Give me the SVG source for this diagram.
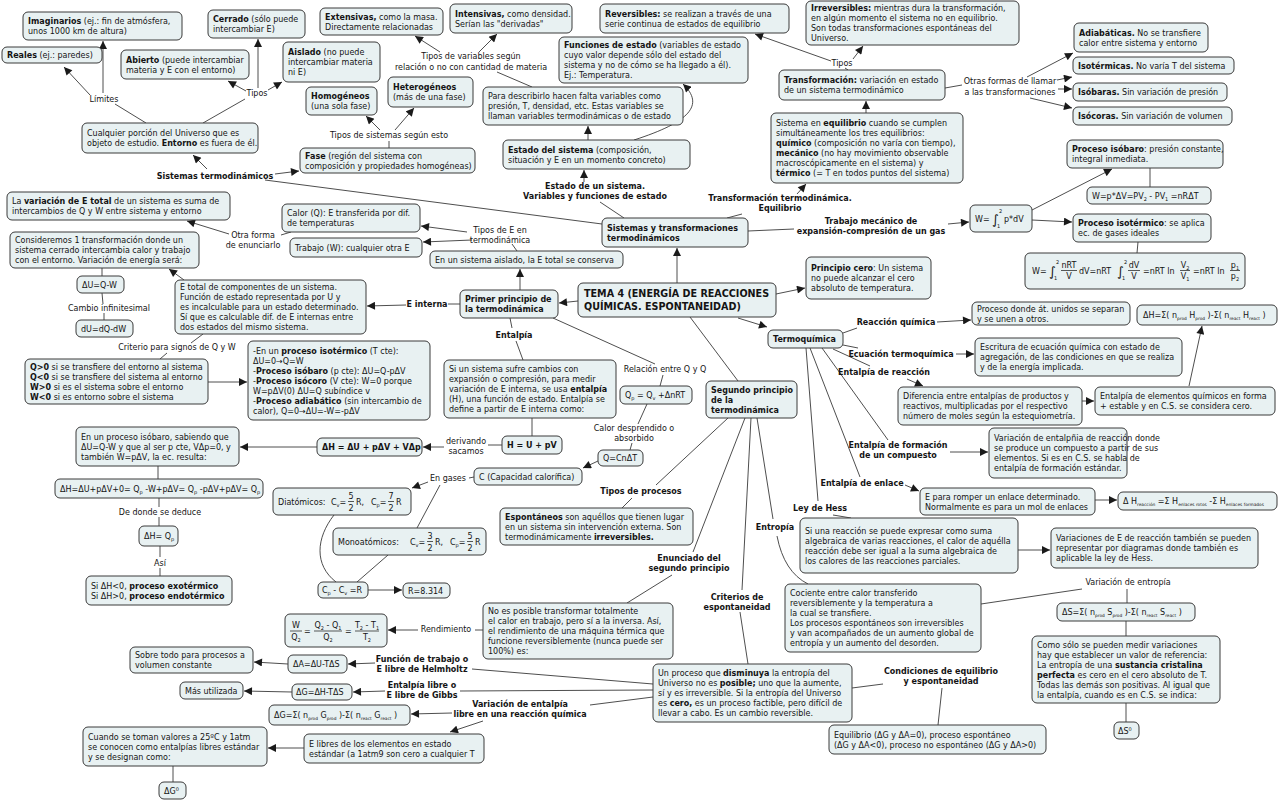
<svg xmlns="http://www.w3.org/2000/svg" width="1280" height="801" viewBox="0 0 1280 801">
<defs>
<marker id="ah" viewBox="0 0 10 10" refX="10" refY="5" markerWidth="9" markerHeight="8" markerUnits="userSpaceOnUse" orient="auto"><path d="M0,0L10,5L0,10z" fill="#1a1a1a"/></marker>
<style>
.t{font-family:"DejaVu Sans",Verdana,sans-serif;font-size:8px;fill:#141414}
.m{text-anchor:middle}
.b{font-weight:bold}
.s{font-size:5px}
.xs{font-size:4.3px}
.root{font-size:9.6px;font-weight:bold}
.box{fill:#e8f1f2;stroke:#3a3a3a;stroke-width:1}
.lk{fill:none;stroke:#3a3a3a;stroke-width:0.9}
.a{marker-end:url(#ah)}
.bar{stroke:#141414;stroke-width:0.7}
</style>
</defs>
<rect width="1280" height="801" fill="#ffffff"/>
<g id="connectors">
<path class="lk a" d="M677 283L677 248"/>
<path class="lk a" d="M578 301L559 303"/>
<path class="lk a" d="M776 294L805 288"/>
<path class="lk a" d="M738 318L767 327"/>
<path class="lk" d="M690 317L738 381"/>
<path class="lk" d="M624 218L600 202"/>
<path class="lk a" d="M584 182L584 170"/>
<path class="lk a" d="M588 140L588 126"/>
<path class="lk a" d="M634 140C690 122 705 105 683 84"/>
<path class="lk" d="M532 87L497 72"/>
<path class="lk a" d="M440 52L415 36"/>
<path class="lk a" d="M479 52L497 34"/>
<path class="lk" d="M602 224L265 180"/>
<path class="lk a" d="M207 169L193 155"/>
<path class="lk a" d="M275 174L299 171"/>
<path class="lk" d="M146 123L115 104"/>
<path class="lk a" d="M90 95L64 67"/>
<path class="lk a" d="M103 93L103 41"/>
<path class="lk" d="M203 123L245 99"/>
<path class="lk a" d="M246 91L228 81"/>
<path class="lk a" d="M258 88L258 39"/>
<path class="lk a" d="M268 90L282 82"/>
<path class="lk" d="M389 148L389 141"/>
<path class="lk a" d="M380 130L366 116"/>
<path class="lk a" d="M395 130L414 108"/>
<path class="lk" d="M727 218L742 214"/>
<path class="lk a" d="M797 194L806 184"/>
<path class="lk a" d="M866 113L866 101"/>
<path class="lk" d="M848 70L845 68"/>
<path class="lk a" d="M831 61L755 34"/>
<path class="lk a" d="M853 59L863 46"/>
<path class="lk" d="M945 88L962 85"/>
<path class="lk a" d="M1027 77L1073 53"/>
<path class="lk a" d="M1057 80L1072 77"/>
<path class="lk a" d="M1058 89L1072 89"/>
<path class="lk a" d="M1030 98L1072 108"/>
<path class="lk" d="M748 231L794 229"/>
<path class="lk a" d="M948 224L969 222"/>
<path class="lk a" d="M1032 210L1112 169"/>
<path class="lk" d="M1150 168L1150 187"/>
<path class="lk a" d="M1032 220L1072 222"/>
<path class="lk" d="M1138 242L1137 253"/>
<path class="lk a" d="M520 290L520 269"/>
<path class="lk" d="M517 251L512 244"/>
<path class="lk a" d="M467 232L421 226"/>
<path class="lk a" d="M472 240L423 242"/>
<path class="lk" d="M281 235L291 232"/>
<path class="lk a" d="M229 234L187 221"/>
<path class="lk" d="M460 304L448 304"/>
<path class="lk a" d="M406 305L367 306"/>
<path class="lk a" d="M184 280L169 269"/>
<path class="lk" d="M102 268L102 276"/>
<path class="lk" d="M102 293L103 304"/>
<path class="lk" d="M104 313L104 320"/>
<path class="lk" d="M203 334L191 343"/>
<path class="lk" d="M167 353L160 359"/>
<path class="lk a" d="M208 382L247 382"/>
<path class="lk" d="M510 318L512 328"/>
<path class="lk" d="M516 341L523 360"/>
<path class="lk" d="M532 418L532 436"/>
<path class="lk" d="M502 445L488 445"/>
<path class="lk a" d="M444 447L423 447"/>
<path class="lk a" d="M317 447L240 447"/>
<path class="lk" d="M158 466L158 479"/>
<path class="lk" d="M159 498L159 507"/>
<path class="lk" d="M159 517L159 526"/>
<path class="lk" d="M160 546L160 557"/>
<path class="lk" d="M160 568L160 576"/>
<path class="lk" d="M553 318L655 364"/>
<path class="lk" d="M663 375L660 386"/>
<path class="lk" d="M647 404L638 424"/>
<path class="lk" d="M632 443L630 450"/>
<path class="lk a" d="M598 461L583 468"/>
<path class="lk" d="M474 477L469 478"/>
<path class="lk a" d="M428 482L412 488"/>
<path class="lk" d="M440 485L417 528"/>
<path class="lk" d="M334 515C316 538 314 565 336 582"/>
<path class="lk" d="M388 555L357 582"/>
<path class="lk a" d="M368 590L402 590"/>
<path class="lk" d="M728 418L656 485"/>
<path class="lk" d="M632 498L622 508"/>
<path class="lk" d="M745 418L693 552"/>
<path class="lk" d="M672 575L627 603"/>
<path class="lk" d="M483 630L475 630"/>
<path class="lk a" d="M418 630L388 630"/>
<path class="lk" d="M751 418L742 590"/>
<path class="lk" d="M740 612L748 664"/>
<path class="lk" d="M757 418L773 519"/>
<path class="lk" d="M777 536Q784 572 808 584"/>
<path class="lk" d="M981 604L1082 589"/>
<path class="lk" d="M1127 589L1127 603"/>
<path class="lk" d="M1126 621L1126 636"/>
<path class="lk" d="M1126 703L1126 722"/>
<path class="lk" d="M653 684L472 669"/>
<path class="lk" d="M653 690L460 691"/>
<path class="lk" d="M653 697L590 705"/>
<path class="lk a" d="M375 663L348 664"/>
<path class="lk a" d="M288 664L254 662"/>
<path class="lk a" d="M385 691L353 692"/>
<path class="lk a" d="M292 692L244 691"/>
<path class="lk a" d="M452 713L411 714"/>
<path class="lk a" d="M483 721L450 732"/>
<path class="lk a" d="M304 748L268 748"/>
<path class="lk" d="M173 766L173 782"/>
<path class="lk" d="M852 688L883 684"/>
<path class="lk" d="M942 688L938 725"/>
<path class="lk" d="M843 333L857 328"/>
<path class="lk a" d="M937 322L971 320"/>
<path class="lk" d="M843 345L858 348"/>
<path class="lk a" d="M956 354L974 354"/>
<path class="lk" d="M833 349L870 366"/>
<path class="lk a" d="M907 379L923 386"/>
<path class="lk a" d="M1082 401L1094 401"/>
<path class="lk a" d="M1189 386L1202 326"/>
<path class="lk" d="M822 348L888 440"/>
<path class="lk a" d="M950 452L988 452"/>
<path class="lk" d="M810 348L860 477"/>
<path class="lk a" d="M905 485L919 491"/>
<path class="lk a" d="M1095 500L1117 500"/>
<path class="lk" d="M806 348L818 501"/>
<path class="lk" d="M833 515L851 518"/>
<path class="lk a" d="M1018 550L1050 550"/>
</g>

<!-- top left -->
<g id="imaginarios"><rect class="box" x="23" y="12" width="159" height="28" rx="5"/><text class="t" x="28" y="24"><tspan class="b">Imaginarios</tspan> (ej.: fin de atmósfera,<tspan x="28" dy="10">unos 1000 km de altura)</tspan></text></g>
<g id="reales"><rect class="box" x="2" y="47" width="100" height="16" rx="5"/><text class="t" x="7" y="58"><tspan class="b">Reales</tspan> (ej.: paredes)</text></g>
<g id="cerrado"><rect class="box" x="208" y="10" width="97" height="28" rx="5"/><text class="t" x="213" y="22"><tspan class="b">Cerrado</tspan> (sólo puede<tspan x="213" dy="10">intercambiar E)</tspan></text></g>
<g id="abierto"><rect class="box" x="121" y="50" width="128" height="29" rx="5"/><text class="t" x="126" y="62.5"><tspan class="b">Abierto</tspan> (puede intercambiar<tspan x="126" dy="10">materia y E con el entorno)</tspan></text></g>
<g id="aislado"><rect class="box" x="283" y="42" width="97" height="40" rx="5"/><text class="t" x="288" y="55"><tspan class="b">Aislado</tspan> (no puede<tspan x="288" dy="10">intercambiar materia</tspan><tspan x="288" dy="10">ni E)</tspan></text></g>
<g id="homogeneos"><rect class="box" x="306" y="87" width="71" height="28" rx="5"/><text class="t" x="311" y="99"><tspan class="b">Homogéneos</tspan><tspan x="311" dy="10">(una sola fase)</tspan></text></g>
<g id="heterogeneos"><rect class="box" x="388" y="77" width="85" height="30" rx="5"/><text class="t" x="393" y="90"><tspan class="b">Heterogéneos</tspan><tspan x="393" dy="10">(más de una fase)</tspan></text></g>
<g id="extensivas"><rect class="box" x="320" y="8" width="123" height="27" rx="5"/><text class="t" x="325" y="19.5"><tspan class="b">Extensivas,</tspan> como la masa.<tspan x="325" dy="10">Directamente relacionadas</tspan></text></g>
<g id="intensivas"><rect class="box" x="450" y="4" width="122" height="29" rx="5"/><text class="t" x="455" y="16.5"><tspan class="b">Intensivas,</tspan> como densidad.<tspan x="455" dy="10">Serían las "derivadas"</tspan></text></g>
<g id="reversibles"><rect class="box" x="600" y="4" width="189" height="29" rx="5"/><text class="t" x="605" y="16.5"><tspan class="b">Reversibles:</tspan> se realizan a través de una<tspan x="605" dy="10">serie continua de estados de equilibrio</tspan></text></g>
<g id="irreversibles"><rect class="box" x="806" y="1" width="213" height="44" rx="5"/><text class="t" x="811" y="11"><tspan class="b">Irreversibles:</tspan> mientras dura la transformación,<tspan x="811" dy="10">en algún momento el sistema no en equilibrio.</tspan><tspan x="811" dy="10">Son todas transformaciones espontáneas del</tspan><tspan x="811" dy="10">Universo.</tspan></text></g>
<g id="funciones"><rect class="box" x="559" y="37" width="189" height="46" rx="5"/><text class="t" x="564" y="48"><tspan class="b">Funciones de estado</tspan> (variables de estado<tspan x="564" dy="10">cuyo valor depende sólo del estado del</tspan><tspan x="564" dy="10">sistema y no de cómo se ha llegado a él).</tspan><tspan x="564" dy="10">Ej.: Temperatura.</tspan></text></g>
<g id="describirlo"><rect class="box" x="483" y="87" width="200" height="38" rx="5"/><text class="t" x="488" y="99">Para describirlo hacen falta variables como<tspan x="488" dy="10">presión, T, densidad, etc. Estas variables se</tspan><tspan x="488" dy="10">llaman variables termodinámicas o de estado</tspan></text></g>
<g id="estado"><rect class="box" x="503" y="140" width="187" height="29" rx="5"/><text class="t" x="508" y="152.5"><tspan class="b">Estado del sistema</tspan> (composición,<tspan x="508" dy="10">situación y E en un momento concreto)</tspan></text></g>
<g id="transformacion"><rect class="box" x="779" y="70" width="166" height="30" rx="5"/><text class="t" x="784" y="83"><tspan class="b">Transformación:</tspan> variación en estado<tspan x="784" dy="10">de un sistema termodinámico</tspan></text></g>
<g id="adiabaticas"><rect class="box" x="1074" y="23" width="134" height="29" rx="5"/><text class="t" x="1079" y="35.5"><tspan class="b">Adiabáticas.</tspan> No se transfiere<tspan x="1079" dy="10">calor entre sistema y entorno</tspan></text></g>
<g id="isotermicas"><rect class="box" x="1073" y="57" width="161" height="17" rx="5"/><text class="t" x="1078" y="68.5"><tspan class="b">Isotérmicas.</tspan> No varía T del sistema</text></g>
<g id="isobaras"><rect class="box" x="1073" y="83" width="154" height="18" rx="5"/><text class="t" x="1078" y="95"><tspan class="b">Isóbaras.</tspan> Sin variación de presión</text></g>
<g id="isocoras"><rect class="box" x="1073" y="107" width="159" height="18" rx="5"/><text class="t" x="1078" y="119"><tspan class="b">Isócoras.</tspan> Sin variación de volumen</text></g>
<g id="equilibrio"><rect class="box" x="771" y="113" width="192" height="70" rx="5"/><text class="t" x="776" y="126">Sistema en <tspan class="b">equilibrio</tspan> cuando se cumplen<tspan x="776" dy="10">simultáneamente los tres equilibrios:</tspan><tspan x="776" dy="10" class="b">químico</tspan> (composición no varía con tiempo),<tspan x="776" dy="10" class="b">mecánico</tspan> (no hay movimiento observable<tspan x="776" dy="10">macroscópicamente en el sistema) y</tspan><tspan x="776" dy="10" class="b">térmico</tspan> (= T en todos puntos del sistema)</text></g>
<g id="fase"><rect class="box" x="300" y="148" width="175" height="25" rx="5"/><text class="t" x="305" y="158.5"><tspan class="b">Fase</tspan> (región del sistema con<tspan x="305" dy="10">composición y propiedades homogéneas)</tspan></text></g>
<g id="cualquier"><rect class="box" x="82" y="123" width="176" height="30" rx="5"/><text class="t" x="87" y="136">Cualquier porción del Universo que es<tspan x="87" dy="10">objeto de estudio. </tspan><tspan class="b">Entorno</tspan> es fuera de él.</text></g>
<g id="sistemas-transf"><rect class="box" x="602" y="218" width="146" height="29" rx="5"/><text class="t b" x="607" y="230.5">Sistemas y transformaciones<tspan x="607" dy="10">termodinámicos</tspan></text></g>
<g id="calor"><rect class="box" x="282" y="204" width="138" height="28" rx="5"/><text class="t" x="287" y="216">Calor (Q): E transferida por dif.<tspan x="287" dy="10">de temperaturas</tspan></text></g>
<g id="trabajo"><rect class="box" x="290" y="238" width="132" height="19" rx="5"/><text class="t" x="295" y="250.5">Trabajo (W): cualquier otra E</text></g>
<g id="variacion-total"><rect class="box" x="7" y="192" width="223" height="28" rx="5"/><text class="t" x="12" y="204">La <tspan class="b">variación de E total</tspan> de un sistema es suma de<tspan x="12" dy="10">intercambios de Q y W entre sistema y entorno</tspan></text></g>
<g id="consideremos"><rect class="box" x="10" y="232" width="189" height="36" rx="5"/><text class="t" x="15" y="243">Consideremos 1 transformación donde un<tspan x="15" dy="10">sistema cerrado intercambia calor y trabajo</tspan><tspan x="15" dy="10">con el entorno. Variación de energía será:</tspan></text></g>
<g id="aislado-conserva"><rect class="box" x="430" y="251" width="193" height="17" rx="5"/><text class="t" x="435" y="262.5">En un sistema aislado, la E total se conserva</text></g>
<g id="du"><rect class="box" x="77" y="276" width="47" height="17" rx="5"/><text class="t" x="82" y="287.5">ΔU=Q-W</text></g>
<g id="du-inf"><rect class="box" x="76" y="320" width="57" height="17" rx="5"/><text class="t" x="81" y="331.5">dU=dQ-dW</text></g>
<g id="e-total"><rect class="box" x="175" y="280" width="191" height="54" rx="5"/><text class="t" x="180" y="290">E total de componentes de un sistema.<tspan x="180" dy="10">Función de estado representada por U y</tspan><tspan x="180" dy="10">es incalculable para un estado determinado.</tspan><tspan x="180" dy="10">Sí que es calculable dif. de E internas entre</tspan><tspan x="180" dy="10">dos estados del mismo sistema.</tspan></text></g>
<g id="signos"><rect class="box" x="25" y="359" width="183" height="45" rx="5"/><text class="t" x="30" y="369.5"><tspan class="b">Q&gt;0</tspan> si se transfiere del entorno al sistema<tspan x="30" dy="10" class="b">Q&lt;0</tspan> si se transfiere del sistema al entorno<tspan x="30" dy="10" class="b">W&gt;0</tspan> si es el sistema sobre el entorno<tspan x="30" dy="10" class="b">W&lt;0</tspan> si es entorno sobre el sistema</text></g>
<g id="procesos-primer"><rect class="box" x="248" y="341" width="182" height="79" rx="5"/><text class="t" x="253" y="353.5">-En un <tspan class="b">proceso isotérmico</tspan> (T cte):<tspan x="253" dy="10">ΔU=0→Q=W</tspan><tspan x="253" dy="10">-</tspan><tspan class="b">Proceso isóbaro</tspan> (p cte): ΔU=Q-pΔV<tspan x="253" dy="10">-</tspan><tspan class="b">Proceso isócoro</tspan> (V cte): W=0 porque<tspan x="253" dy="10">W=pΔV(0)   ΔU=Q subíndice v</tspan><tspan x="253" dy="10">-</tspan><tspan class="b">Proceso adiabático</tspan> (sin intercambio de<tspan x="253" dy="10">calor), Q=0→ΔU=-W=-pΔV</tspan></text></g>
<g id="primer"><rect class="box" x="460" y="290" width="98" height="28" rx="5"/><text class="t b" x="465" y="302">Primer principio de<tspan x="465" dy="10">la termodinámica</tspan></text></g>
<g id="root"><rect class="box" x="578" y="283" width="198" height="34" rx="5"/><text class="t root" x="584" y="296.5">TEMA 4 (ENERGÍA DE REACCIONES<tspan x="584" dy="13">QUÍMICAS. ESPONTANEIDAD)</tspan></text></g>
<g id="si-sistema"><rect class="box" x="444" y="360" width="172" height="58" rx="5"/><text class="t" x="449" y="372">Si un sistema sufre cambios con<tspan x="449" dy="10">expansión o compresión, para medir</tspan><tspan x="449" dy="10">variación de E interna, se usa </tspan><tspan class="b">entalpía</tspan><tspan x="449" dy="10">(H), una función de estado. Entalpía se</tspan><tspan x="449" dy="10">define a partir de E interna como:</tspan></text></g>
<g id="qp"><rect class="box" x="620" y="386" width="72" height="18" rx="5"/><text class="t" x="625" y="398">Q<tspan class="s" dy="2">p</tspan><tspan dy="-2"> = Q</tspan><tspan class="s" dy="2">v</tspan><tspan dy="-2"> +ΔnRT</tspan></text></g>
<g id="qcn"><rect class="box" x="598" y="450" width="45" height="16" rx="5"/><text class="t" x="603" y="461">Q=CnΔT</text></g>
<g id="h-def"><rect class="box" x="502" y="436" width="60" height="18" rx="5"/><text class="t b" x="507" y="448">H = U + pV</text></g>
<g id="dh-def"><rect class="box" x="317" y="438" width="105" height="18" rx="5"/><text class="t b" x="322" y="450">ΔH = ΔU + pΔV + VΔp</text></g>
<g id="isobaro-dh"><rect class="box" x="76" y="427" width="163" height="39" rx="5"/><text class="t" x="81" y="439.5">En un proceso isóbaro, sabiendo que<tspan x="81" dy="10">ΔU=Q-W y que al ser p cte, VΔp=0, y</tspan><tspan x="81" dy="10">también W=pΔV, la ec. resulta:</tspan></text></g>
<g id="dh-long"><rect class="box" x="55" y="479" width="208" height="19" rx="5"/><text class="t" x="60" y="491.5">ΔH=ΔU+pΔV+0= Q<tspan class="s" dy="2">p</tspan><tspan dy="-2"> -W+pΔV= Q</tspan><tspan class="s" dy="2">p</tspan><tspan dy="-2"> -pΔV+pΔV= Q</tspan><tspan class="s" dy="2">p</tspan></text></g>
<g id="dh-qp"><rect class="box" x="139" y="526" width="39" height="20" rx="5"/><text class="t" x="144" y="539">ΔH= Q<tspan class="s" dy="2">p</tspan></text></g>
<g id="exo-endo"><rect class="box" x="86" y="576" width="146" height="29" rx="5"/><text class="t" x="91" y="588.5">Si ΔH&lt;0, <tspan class="b">proceso exotérmico</tspan><tspan x="91" dy="10">Si ΔH&gt;0, </tspan><tspan class="b">proceso endotérmico</tspan></text></g>
<g id="capacidad"><rect class="box" x="474" y="468" width="108" height="17" rx="5"/><text class="t" x="479" y="479.5">C (Capacidad calorífica)</text></g>
<g id="diatomicos"><rect class="box" x="273" y="488" width="138" height="27" rx="5"/>
<text class="t" x="278" y="504.5">Diatómicos:</text>
<text class="t" x="331" y="504.5">C<tspan class="s" dy="2">v</tspan><tspan dy="-2">=</tspan></text>
<text class="t m" x="351" y="499">5</text><line class="bar" x1="348" y1="501.5" x2="354" y2="501.5"/><text class="t m" x="351" y="511">2</text>
<text class="t" x="356" y="504.5">R,</text>
<text class="t" x="371" y="504.5">C<tspan class="s" dy="2">p</tspan><tspan dy="-2">=</tspan></text>
<text class="t m" x="391" y="499">7</text><line class="bar" x1="388" y1="501.5" x2="394" y2="501.5"/><text class="t m" x="391" y="511">2</text>
<text class="t" x="396" y="504.5">R</text></g>
<g id="monoatomicos"><rect class="box" x="333" y="528" width="153" height="27" rx="5"/>
<text class="t" x="338" y="544.5">Monoatómicos:</text>
<text class="t" x="410" y="544.5">C<tspan class="s" dy="2">v</tspan><tspan dy="-2">=</tspan></text>
<text class="t m" x="430" y="539">3</text><line class="bar" x1="427" y1="541.5" x2="433" y2="541.5"/><text class="t m" x="430" y="551">2</text>
<text class="t" x="435" y="544.5">R,</text>
<text class="t" x="450" y="544.5">C<tspan class="s" dy="2">p</tspan><tspan dy="-2">=</tspan></text>
<text class="t m" x="470" y="539">5</text><line class="bar" x1="467" y1="541.5" x2="473" y2="541.5"/><text class="t m" x="470" y="551">2</text>
<text class="t" x="475" y="544.5">R</text></g>
<g id="cp-cv"><rect class="box" x="318" y="582" width="50" height="16" rx="5"/><text class="t" x="322" y="593">C<tspan class="s" dy="2">p</tspan><tspan dy="-2"> - C</tspan><tspan class="s" dy="2">v</tspan><tspan dy="-2"> =R</tspan></text></g>
<g id="r-valor"><rect class="box" x="403" y="583" width="47" height="15" rx="5"/><text class="t" x="408" y="593.5">R=8.314</text></g>
<g id="espontaneos"><rect class="box" x="500" y="508" width="193" height="37" rx="5"/><text class="t" x="505" y="519.5"><tspan class="b">Espontáneos</tspan> son aquéllos que tienen lugar<tspan x="505" dy="10">en un sistema sin intervención externa. Son</tspan><tspan x="505" dy="10">termodinámicamente </tspan><tspan class="b">irreversibles.</tspan></text></g>
<g id="segundo"><rect class="box" x="706" y="381" width="91" height="37" rx="5"/><text class="t b" x="711" y="392.5">Segundo principio<tspan x="711" dy="10">de la</tspan><tspan x="711" dy="10">termodinámica</tspan></text></g>
<g id="cero"><rect class="box" x="806" y="257" width="125" height="42" rx="5"/><text class="t" x="811" y="271"><tspan class="b">Principio cero</tspan>: Un sistema<tspan x="811" dy="10">no puede alcanzar el cero</tspan><tspan x="811" dy="10">absoluto de temperatura.</tspan></text></g>
<g id="termoquimica"><rect class="box" x="768" y="330" width="75" height="18" rx="5"/><text class="t b" x="773" y="342">Termoquímica</text></g>
<g id="diferencia"><rect class="box" x="898" y="387" width="184" height="38" rx="5"/><text class="t" x="903" y="399">Diferencia entre entalpías de productos y<tspan x="903" dy="10">reactivos, multiplicadas por el respectivo</tspan><tspan x="903" dy="10">número de moles según la estequiometría.</tspan></text></g>
<g id="proceso-donde"><rect class="box" x="972" y="302" width="158" height="23" rx="5"/><text class="t" x="977" y="311.5">Proceso donde át. unidos se separan<tspan x="977" dy="10">y se unen a otros.</tspan></text></g>
<g id="escritura"><rect class="box" x="975" y="338" width="207" height="38" rx="5"/><text class="t" x="980" y="350">Escritura de ecuación química con estado de<tspan x="980" dy="10">agregación, de las condiciones en que se realiza</tspan><tspan x="980" dy="10">y de la energía implicada.</tspan></text></g>
<g id="dh-sigma"><rect class="box" x="1137" y="305" width="140" height="20" rx="5"/><text class="t" x="1143" y="318">ΔH=Σ( n<tspan class="xs" dy="2">prod</tspan><tspan dy="-2"> H</tspan><tspan class="xs" dy="2">prod</tspan><tspan dy="-2"> )-Σ( n</tspan><tspan class="xs" dy="2">react</tspan><tspan dy="-2"> H</tspan><tspan class="xs" dy="2">react</tspan><tspan dy="-2"> )</tspan></text></g>
<g id="elementos"><rect class="box" x="1095" y="387" width="180" height="28" rx="5"/><text class="t" x="1100" y="399">Entalpía de elementos químicos en forma<tspan x="1100" dy="10">+ estable y en C.S. se considera cero.</tspan></text></g>
<g id="formacion"><rect class="box" x="989" y="428" width="138" height="50" rx="5"/><text class="t" x="994" y="441">Variación de entalpñia de reacción donde<tspan x="994" dy="10">se produce un compuesto a partir de sus</tspan><tspan x="994" dy="10">elementos. Si es en C.S. se habla de</tspan><tspan x="994" dy="10">entalpía de formación estándar.</tspan></text></g>
<g id="romper"><rect class="box" x="920" y="488" width="175" height="27" rx="5"/><text class="t" x="925" y="499.5">E para romper un enlace determinado.<tspan x="925" dy="10">Normalmente es para un mol de enlaces</tspan></text></g>
<g id="dh-enlaces"><rect class="box" x="1118" y="492" width="159" height="18" rx="5"/><text class="t" x="1123" y="504">Δ H<tspan class="xs" dy="2">reacción</tspan><tspan dy="-2"> =Σ H</tspan><tspan class="xs" dy="2">enlaces rotos</tspan><tspan dy="-2"> -Σ H</tspan><tspan class="xs" dy="2">enlaces formados</tspan></text></g>
<g id="hess"><rect class="box" x="800" y="518" width="218" height="55" rx="5"/><text class="t" x="805" y="533.5">Si una reacción se puede expresar como suma<tspan x="805" dy="10">algebraica de varias reacciones, el calor de aquélla</tspan><tspan x="805" dy="10">reacción debe ser igual a la suma algebraica de</tspan><tspan x="805" dy="10">los calores de las reacciones parciales.</tspan></text></g>
<g id="diagramas"><rect class="box" x="1051" y="528" width="207" height="40" rx="5"/><text class="t" x="1056" y="541">Variaciones de E de reacción también se pueden<tspan x="1056" dy="10">representar por diagramas donde también es</tspan><tspan x="1056" dy="10">aplicable la ley de Hess.</tspan></text></g>
<g id="ds-sigma"><rect class="box" x="1057" y="603" width="138" height="18" rx="5"/><text class="t" x="1062" y="615">ΔS=Σ( n<tspan class="xs" dy="2">prod</tspan><tspan dy="-2"> S</tspan><tspan class="xs" dy="2">prod</tspan><tspan dy="-2"> )-Σ( n</tspan><tspan class="xs" dy="2">react</tspan><tspan dy="-2"> S</tspan><tspan class="xs" dy="2">react</tspan><tspan dy="-2"> )</tspan></text></g>
<g id="como-solo"><rect class="box" x="1032" y="636" width="188" height="67" rx="5"/><text class="t" x="1037" y="647.5">Como sólo se pueden medir variaciones<tspan x="1037" dy="10">hay que establecer un valor de referencia:</tspan><tspan x="1037" dy="10">La entropía de una </tspan><tspan class="b">sustancia cristalina</tspan><tspan x="1037" dy="10" class="b">perfecta</tspan> es cero en el cero absoluto de T.<tspan x="1037" dy="10">Todas las demás son positivas. Al igual que</tspan><tspan x="1037" dy="10">la entalpía, cuando es en C.S. se indica:</tspan></text></g>
<g id="ds0"><rect class="box" x="1114" y="722" width="25" height="17" rx="5"/><text class="t" x="1118" y="733.5">ΔS<tspan class="s" dy="-3">0</tspan></text></g>
<g id="cociente"><rect class="box" x="785" y="584" width="196" height="68" rx="5"/><text class="t" x="790" y="596">Cociente entre calor transferido<tspan x="790" dy="10">reversiblemente y la temperatura a</tspan><tspan x="790" dy="10">la cual se transfiere.</tspan><tspan x="790" dy="10">Los procesos espontáneos son irreversibles</tspan><tspan x="790" dy="10">y van acompañados de un aumento global de</tspan><tspan x="790" dy="10">entropía y un aumento del desorden.</tspan></text></g>
<g id="no-posible"><rect class="box" x="483" y="603" width="190" height="56" rx="5"/><text class="t" x="488" y="614">No es posible transformar totalmente<tspan x="488" dy="10">el calor en trabajo, pero sí a la inversa. Así,</tspan><tspan x="488" dy="10">el rendimiento de una máquina térmica que</tspan><tspan x="488" dy="10">funcione reversiblemente (nunca puede ser</tspan><tspan x="488" dy="10">100%) es:</tspan></text></g>
<g id="rendimiento-f"><rect class="box" x="285" y="614" width="102" height="33" rx="5"/>
<text class="t m" x="296" y="628">W</text><line class="bar" x1="290" y1="631" x2="302" y2="631"/><text class="t m" x="296" y="640">Q<tspan class="s" dy="2">2</tspan></text>
<text class="t" x="304" y="633.5">=</text>
<text class="t m" x="328" y="628">Q<tspan class="s" dy="2">2</tspan><tspan dy="-2"> - Q</tspan><tspan class="s" dy="2">1</tspan></text><line class="bar" x1="314" y1="631" x2="342" y2="631"/><text class="t m" x="328" y="640">Q<tspan class="s" dy="2">2</tspan></text>
<text class="t" x="345" y="633.5">=</text>
<text class="t m" x="367" y="628">T<tspan class="s" dy="2">2</tspan><tspan dy="-2"> - T</tspan><tspan class="s" dy="2">1</tspan></text><line class="bar" x1="355" y1="631" x2="379" y2="631"/><text class="t m" x="367" y="640">T<tspan class="s" dy="2">2</tspan></text></g>
<g id="da"><rect class="box" x="288" y="655" width="59" height="18" rx="5"/><text class="t" x="293" y="667">ΔA=ΔU-TΔS</text></g>
<g id="sobre-todo"><rect class="box" x="130" y="647" width="123" height="26" rx="5"/><text class="t" x="135" y="658">Sobre todo para procesos a<tspan x="135" dy="10">volumen constante</tspan></text></g>
<g id="dg"><rect class="box" x="292" y="684" width="60" height="16" rx="5"/><text class="t" x="296" y="695">ΔG=ΔH-TΔS</text></g>
<g id="mas-utilizada"><rect class="box" x="180" y="682" width="63" height="17" rx="5"/><text class="t" x="185" y="693.5">Más utilizada</text></g>
<g id="dg-sigma"><rect class="box" x="269" y="705" width="141" height="20" rx="5"/><text class="t" x="274" y="718">ΔG=Σ( n<tspan class="xs" dy="2">prod</tspan><tspan dy="-2"> G</tspan><tspan class="xs" dy="2">prod</tspan><tspan dy="-2"> )-Σ( n</tspan><tspan class="xs" dy="2">react</tspan><tspan dy="-2"> G</tspan><tspan class="xs" dy="2">react</tspan><tspan dy="-2"> )</tspan></text></g>
<g id="e-libres"><rect class="box" x="304" y="734" width="180" height="29" rx="5"/><text class="t" x="309" y="746.5">E libres de los elementos en estado<tspan x="309" dy="10">estándar (a 1atm9 son cero a cualquier T</tspan></text></g>
<g id="cuando"><rect class="box" x="83" y="727" width="184" height="39" rx="5"/><text class="t" x="88" y="739.5">Cuando se toman valores a 25ºC y 1atm<tspan x="88" dy="10">se conocen como entalpías libres estándar</tspan><tspan x="88" dy="10">y se designan como:</tspan></text></g>
<g id="dg0"><rect class="box" x="159" y="782" width="27" height="17" rx="5"/><text class="t" x="164" y="793.5">ΔG<tspan class="s" dy="-3">0</tspan></text></g>
<g id="disminuya"><rect class="box" x="653" y="664" width="199" height="58" rx="5"/><text class="t" x="658" y="676">Un proceso que <tspan class="b">disminuya</tspan> la entropía del<tspan x="658" dy="10">Universo no es </tspan><tspan class="b">posible;</tspan> uno que la aumente,<tspan x="658" dy="10">sí y es irreversible. Si la entropía del Universo</tspan><tspan x="658" dy="10">es </tspan><tspan class="b">cero,</tspan> es un proceso factible, pero difícil de<tspan x="658" dy="10">llevar a cabo. Es un cambio reversible.</tspan></text></g>
<g id="condiciones-box"><rect class="box" x="829" y="725" width="217" height="29" rx="5"/><text class="t" x="834" y="737.5">Equilibrio (ΔG y ΔA=0), proceso espontáneo<tspan x="834" dy="10">(ΔG y ΔA&lt;0), proceso no espontáneo (ΔG y ΔA&gt;0)</tspan></text></g>
<g id="isobaro-w"><rect class="box" x="1067" y="140" width="156" height="28" rx="5"/><text class="t" x="1072" y="152"><tspan class="b">Proceso isóbaro</tspan>: presión constante,<tspan x="1072" dy="10">integral inmediata.</tspan></text></g>
<g id="w-isobaro"><rect class="box" x="1087" y="187" width="124" height="17" rx="5"/><text class="t" x="1092" y="198.5">W=p*ΔV=PV<tspan class="s" dy="2">2</tspan><tspan dy="-2"> - PV</tspan><tspan class="s" dy="2">1</tspan><tspan dy="-2"> =nRΔT</tspan></text></g>
<g id="w-integral"><rect class="box" x="970" y="205" width="62" height="27" rx="5"/>
<text class="t" x="975" y="222">W=</text><text class="t" x="992" y="224" style="font-size:13px">∫</text><text class="t s" x="999" y="213">2</text><text class="t s" x="997" y="228">1</text><text class="t" x="1004" y="222">p*dV</text></g>
<g id="isotermico-w"><rect class="box" x="1073" y="214" width="138" height="28" rx="5"/><text class="t" x="1078" y="226"><tspan class="b">Proceso isotérmico</tspan>: se aplica<tspan x="1078" dy="10">ec. de gases ideales</tspan></text></g>
<g id="w-isotermico"><rect class="box" x="1025" y="253" width="220" height="36" rx="5"/>
<text class="t" x="1032" y="273.5">W=</text><text class="t" x="1049" y="276" style="font-size:13px">∫</text><text class="t s" x="1056" y="264">2</text><text class="t s" x="1054" y="280">1</text>
<text class="t m" x="1069" y="268">nRT</text><line class="bar" x1="1061" y1="270.5" x2="1077" y2="270.5"/><text class="t m" x="1069" y="279">V</text>
<text class="t" x="1079" y="273.5">dV=nRT</text><text class="t" x="1117" y="276" style="font-size:13px">∫</text><text class="t s" x="1124" y="264">2</text><text class="t s" x="1122" y="280">1</text>
<text class="t m" x="1134" y="268">dV</text><line class="bar" x1="1128" y1="270.5" x2="1140" y2="270.5"/><text class="t m" x="1134" y="279">V</text>
<text class="t" x="1143" y="273.5">=nRT ln</text>
<text class="t m" x="1185" y="268">V<tspan class="s" dy="2">2</tspan></text><line class="bar" x1="1180" y1="270.5" x2="1190" y2="270.5"/><text class="t m" x="1185" y="279">V<tspan class="s" dy="2">1</tspan></text>
<text class="t" x="1193" y="273.5">=nRT ln</text>
<text class="t m" x="1235" y="268">p<tspan class="s" dy="2">1</tspan></text><line class="bar" x1="1230" y1="270.5" x2="1240" y2="270.5"/><text class="t m" x="1235" y="279">p<tspan class="s" dy="2">2</tspan></text></g>

<!-- linking phrases -->
<g id="l-limites"><text class="t m" x="104" y="102">Límites</text></g>
<g id="l-tipos1"><text class="t m" x="257" y="96">Tipos</text></g>
<g id="l-sistemas-termo"><text class="t m b" x="215" y="179">Sistemas termodinámicos</text></g>
<g id="l-tipos-sistemas"><text class="t m" x="389" y="138">Tipos de sistemas según esto</text></g>
<g id="l-tipos-variables"><text class="t m" x="471" y="59">Tipos de variables según<tspan x="471" dy="11">relación o no con cantidad de materia</tspan></text></g>
<g id="l-estado"><text class="t m b" x="595" y="189">Estado de un sistema.<tspan x="595" dy="10">Variables y funciones de estado</tspan></text></g>
<g id="l-transf-termo"><text class="t m b" x="780" y="201">Transformación termodinámica.<tspan x="780" dy="10">Equilibrio</tspan></text></g>
<g id="l-tipos2"><text class="t m" x="842" y="66">Tipos</text></g>
<g id="l-otras"><text class="t m" x="1010" y="84">Otras formas de llamar<tspan x="1010" dy="11">a las transformaciones</tspan></text></g>
<g id="l-trabajo-mec"><text class="t m b" x="871" y="224">Trabajo mecánico de<tspan x="871" dy="10">expansión-compresión de un gas</tspan></text></g>
<g id="l-tipos-e"><text class="t m" x="500" y="233">Tipos de E en<tspan x="500" dy="10">termodinámica</tspan></text></g>
<g id="l-otra-forma"><text class="t m" x="253" y="238">Otra forma<tspan x="253" dy="10">de enunciarlo</tspan></text></g>
<g id="l-cambio"><text class="t m" x="109" y="311">Cambio infinitesimal</text></g>
<g id="l-criterio"><text class="t m" x="177" y="350">Criterio para signos de Q y W</text></g>
<g id="l-e-interna"><text class="t m b" x="427" y="307">E interna</text></g>
<g id="l-entalpia"><text class="t m b" x="514" y="338">Entalpía</text></g>
<g id="l-relacion"><text class="t m" x="665" y="372">Relación entre Q y Q</text></g>
<g id="l-calor-desp"><text class="t m" x="634" y="431">Calor desprendido o<tspan x="634" dy="10">absorbido</tspan></text></g>
<g id="l-derivando"><text class="t m" x="466" y="444">derivando<tspan x="466" dy="10">sacamos</tspan></text></g>
<g id="l-gases"><text class="t m" x="448" y="481">En gases</text></g>
<g id="l-deduce"><text class="t m" x="160" y="515">De donde se deduce</text></g>
<g id="l-asi"><text class="t m" x="160" y="566">Así</text></g>
<g id="l-tipos-procesos"><text class="t m b" x="641" y="494">Tipos de procesos</text></g>
<g id="l-reaccion"><text class="t m b" x="896" y="325">Reacción química</text></g>
<g id="l-ecuacion"><text class="t m b" x="901" y="357">Ecuación termoquímica</text></g>
<g id="l-ent-reaccion"><text class="t m b" x="884" y="375">Entalpía de reacción</text></g>
<g id="l-ent-formacion"><text class="t m b" x="898" y="448">Entalpía de formación<tspan x="898" dy="10">de un compuesto</tspan></text></g>
<g id="l-ent-enlace"><text class="t m b" x="862" y="486">Entalpía de enlace</text></g>
<g id="l-hess"><text class="t m b" x="820" y="511">Ley de Hess</text></g>
<g id="l-var-entropia"><text class="t m" x="1128" y="585">Variación de entropía</text></g>
<g id="l-entropia"><text class="t m b" x="775" y="530">Entropía</text></g>
<g id="l-criterios"><text class="t m b" x="737" y="600">Criterios de<tspan x="737" dy="10">espontaneidad</tspan></text></g>
<g id="l-enunciado"><text class="t m b" x="689" y="561">Enunciado del<tspan x="689" dy="10">segundo principio</tspan></text></g>
<g id="l-rendimiento"><text class="t m" x="446" y="632">Rendimiento</text></g>
<g id="l-helmholtz"><text class="t m b" x="422" y="662">Función de trabajo o<tspan x="422" dy="10">E libre de Helmholtz</tspan></text></g>
<g id="l-gibbs"><text class="t m b" x="422" y="688">Entalpía libre o<tspan x="422" dy="10">E libre de Gibbs</tspan></text></g>
<g id="l-var-libre"><text class="t m b" x="520" y="707">Variación de entalpía<tspan x="520" dy="10">libre en una reacción química</tspan></text></g>
<g id="l-condiciones"><text class="t m b" x="941" y="674">Condiciones de equilibrio<tspan x="941" dy="10">y espontaneidad</tspan></text></g>
</svg>
